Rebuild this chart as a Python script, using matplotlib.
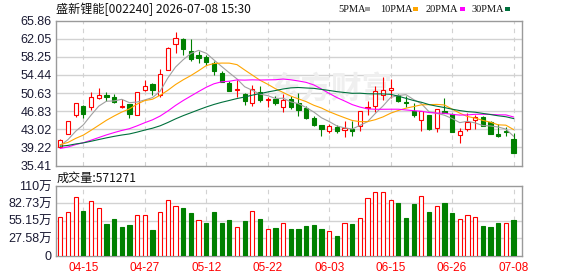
import matplotlib
matplotlib.use("Agg")
import matplotlib.pyplot as plt
from matplotlib.patches import Rectangle

plt.rcParams['font.family'] = ['Liberation Sans', 'Noto Sans CJK SC']

# trading days shown (2026)
dates = ["04-10", "04-13", "04-14", "04-15", "04-16", "04-17", "04-20", "04-21", "04-22", "04-23",
         "04-24", "04-27", "04-28", "04-29", "04-30", "05-06", "05-07", "05-08", "05-11", "05-12",
         "05-13", "05-14", "05-15", "05-18", "05-19", "05-20", "05-21", "05-22", "05-25", "05-26",
         "05-27", "05-28", "05-29", "06-01", "06-02", "06-03", "06-04", "06-05", "06-08", "06-09",
         "06-10", "06-11", "06-12", "06-15", "06-16", "06-17", "06-18", "06-22", "06-23", "06-24",
         "06-25", "06-26", "06-29", "06-30", "07-01", "07-02", "07-03", "07-06", "07-07", "07-08"]

opens = [39.31, 42.07, 46.09, 47.93, 47.79, 49.69, 50.26, 49.83, 47.79, 48.35,
         46.09, 51.18, 52.45, 50.19, 55.48, 60.99, 61.91, 59.51, 58.66, 58.24,
         56.96, 54.92, 52.80, 51.18, 50.47, 48.49, 50.89, 49.20, 49.41, 47.65,
         49.27, 48.63, 47.50, 45.39, 43.90, 42.70, 43.55, 42.77, 42.99, 43.69,
         47.43, 47.86, 50.19, 51.25, 50.19, 48.77, 46.94, 44.96, 45.95, 43.20,
         46.94, 46.30, 41.71, 42.99, 44.96, 45.60, 44.47, 42.00, 42.56, 40.94]
highs = [41.00, 44.75, 48.60, 48.20, 50.89, 51.60, 50.89, 50.33, 49.34, 48.40,
         50.95, 53.44, 52.80, 55.62, 60.30, 63.46, 62.19, 62.05, 59.51, 58.66,
         57.39, 55.27, 53.15, 53.29, 50.68, 52.31, 52.10, 49.90, 49.97, 50.47,
         49.97, 50.68, 47.86, 45.88, 43.90, 44.11, 43.83, 44.82, 44.68, 46.80,
         49.06, 52.10, 54.07, 53.65, 50.47, 49.97, 48.56, 46.94, 46.09, 47.30,
         49.62, 46.52, 43.27, 46.45, 46.09, 45.88, 44.68, 44.19, 43.55, 42.21]
lows = [39.03, 42.00, 45.53, 45.39, 47.08, 49.41, 49.06, 48.49, 47.50, 45.39,
        46.00, 51.03, 50.19, 49.90, 55.40, 59.08, 58.59, 57.39, 56.89, 56.61,
        54.42, 52.87, 51.00, 49.90, 48.07, 47.93, 48.77, 47.79, 48.07, 46.66,
        47.36, 45.88, 45.25, 43.69, 41.71, 42.28, 42.28, 41.43, 41.71, 42.70,
        46.09, 46.66, 49.27, 49.62, 48.77, 47.65, 45.67, 42.56, 42.92, 42.49,
        46.50, 42.42, 40.16, 42.56, 43.13, 43.62, 42.00, 41.50, 41.71, 38.00]
closes = [40.73, 44.68, 48.49, 46.23, 49.76, 50.19, 49.90, 48.77, 47.93, 46.23,
          50.89, 52.10, 51.18, 54.71, 60.14, 62.26, 59.86, 57.74, 57.95, 57.10,
          55.27, 53.01, 51.03, 51.53, 48.92, 51.46, 49.06, 49.41, 48.56, 49.20,
          47.65, 47.15, 45.39, 43.83, 43.13, 43.69, 42.56, 43.34, 42.70, 46.80,
          47.72, 51.10, 51.20, 51.67, 48.92, 48.49, 45.95, 46.94, 43.13, 47.29,
          46.52, 42.50, 42.60, 44.61, 45.53, 43.76, 42.07, 41.50, 42.42, 38.04]

# volume in 万 shares
volumes = [61.6, 69.6, 93.5, 70.1, 87.1, 76.0, 49.4, 57.4, 44.6, 47.8,
           64.8, 63.8, 39.9, 69.6, 88.7, 79.2, 74.9, 67.0, 56.9, 51.0,
           68.5, 51.0, 55.8, 45.7, 54.2, 71.2, 57.4, 42.5, 43.0, 52.1,
           41.4, 41.4, 46.2, 47.8, 41.4, 38.3, 30.3, 51.0, 49.4, 60.0,
           91.9, 101.5, 101.5, 88.7, 84.0, 59.0, 81.3, 95.1, 68.5, 79.2,
           82.9, 67.0, 58.4, 64.8, 61.6, 46.2, 44.6, 51.0, 52.1, 57.13]

ma5 = [39.60, 40.85, 42.60, 43.95, 45.98, 47.87, 48.91, 48.97, 49.31, 48.60,
       48.74, 49.18, 49.67, 51.02, 53.80, 56.08, 57.63, 58.94, 59.59, 58.98,
       57.58, 56.21, 54.87, 53.59, 51.95, 51.19, 50.40, 50.08, 49.48, 49.54,
       48.78, 48.39, 47.59, 46.64, 45.43, 44.64, 43.72, 43.31, 43.08, 43.82,
       44.62, 46.33, 47.90, 49.70, 50.12, 50.28, 49.25, 48.39, 46.69, 46.36,
       45.97, 45.28, 44.41, 44.70, 44.35, 43.80, 43.71, 43.49, 43.06, 41.56]
ma10 = [39.80, 40.25, 41.10, 41.80, 42.80, 43.85, 44.90, 45.80, 46.63, 47.29,
        48.31, 49.05, 49.32, 50.17, 51.20, 52.41, 53.41, 54.30, 55.31, 56.39,
        56.83, 56.92, 56.91, 56.59, 55.47, 54.39, 53.31, 52.47, 51.54, 50.75,
        49.98, 49.40, 48.83, 48.06, 47.48, 46.71, 46.06, 45.45, 44.86, 44.62,
        44.63, 45.03, 45.61, 46.39, 46.97, 47.45, 47.79, 48.15, 48.19, 48.24,
        48.12, 47.26, 46.40, 45.70, 45.36, 44.88, 44.50, 43.95, 43.88, 42.96]
ma20 = [39.00, 39.30, 39.80, 40.20, 40.72, 41.28, 41.83, 42.32, 42.77, 43.14,
        43.74, 44.40, 45.00, 45.80, 46.85, 48.02, 49.06, 50.00, 50.94, 51.84,
        52.57, 52.99, 53.11, 53.38, 53.34, 53.40, 53.36, 53.39, 53.42, 53.57,
        53.41, 53.16, 52.87, 52.33, 51.48, 50.55, 49.68, 48.96, 48.20, 47.68,
        47.31, 47.21, 47.22, 47.23, 47.23, 47.08, 46.92, 46.80, 46.53, 46.43,
        46.38, 46.14, 46.00, 46.04, 46.16, 46.17, 46.14, 46.05, 46.04, 45.60]
ma30 = [39.45, 39.63, 39.93, 40.16, 40.50, 40.86, 41.21, 41.53, 41.81, 42.04,
        42.42, 42.85, 43.24, 43.75, 44.44, 45.20, 45.88, 46.49, 47.11, 47.70,
        48.23, 48.68, 49.07, 49.47, 49.79, 50.19, 50.51, 50.85, 51.15, 51.48,
        51.71, 51.79, 51.69, 51.61, 51.39, 51.17, 50.92, 50.74, 50.57, 50.59,
        50.48, 50.45, 50.45, 50.35, 49.97, 49.51, 49.05, 48.69, 48.20, 47.87,
        47.58, 47.23, 46.95, 46.72, 46.60, 46.35, 46.11, 45.85, 45.65, 45.27]

price_ticks = [35.41, 39.22, 43.02, 46.83, 50.63, 54.44, 58.25, 62.05, 65.86]
vol_ticks = [0, 27.58, 55.15, 82.73, 110.3]
vol_tick_labels = ["0", "27.58万", "55.15万", "82.73万", "110万"]

RED = "#ff0000"
GREEN = "#008000"
GRID = "#d2d2d2"
SPINE = "#9a9a9a"
ma_colors = ["#a0a0a0", "#ffa500", "#ff00ff", "#00703c"]

W, H = 578, 276
fig = plt.figure(figsize=(W / 100, H / 100), dpi=100)


def fx(px):
    return px / W


def fy(py):
    return 1 - py / H


ax = fig.add_axes([fx(56), fy(165.5), fx(522) - fx(56), fy(20.5) - fy(165.5)])
axv = fig.add_axes([fx(56), fy(255.5), fx(522) - fx(56), fy(186) - fy(255.5)])

n = len(closes)
label_idx = list(range(3, n, 8))

for a in (ax, axv):
    a.set_xlim(-0.56, n + 0.1)
    for s in a.spines.values():
        s.set_color(SPINE)
        s.set_linewidth(1.0)
    for i in label_idx:
        a.axvline(i, color=GRID, lw=0.8, ls=(0, (4, 4)), zorder=0)
    a.tick_params(length=0, pad=3)

# candles
for i in range(n):
    o, h, l, c = opens[i], highs[i], lows[i], closes[i]
    col = RED if c >= o else GREEN
    ax.vlines(i, l, h, color=col, lw=0.8, zorder=2)
    body = max(abs(c - o), 0.06)
    ax.bar(i, body, bottom=min(o, c), width=0.55,
           facecolor="white" if c >= o else col, edgecolor=col, lw=0.8, zorder=3)

x = list(range(n))
for ma, col in zip([ma5, ma10, ma20, ma30], ma_colors):
    ax.plot(x, ma, color=col, lw=0.8, zorder=4)

ax.set_ylim(price_ticks[0], price_ticks[-1])
ax.set_yticks(price_ticks)
ax.set_yticklabels([f"{v:.2f}" for v in price_ticks], fontsize=9, color="#1a1a33")
for v in price_ticks[1:-1]:
    ax.axhline(v, color=GRID, lw=1.0, zorder=0)
ax.set_xticks([])

ax.text(0.59, 0.53, "东方财富", transform=ax.transAxes, fontsize=22, fontweight="bold",
        color="#efefef", ha="center", va="center", family=["Noto Sans CJK SC"], zorder=1)

# volume
for i in range(n):
    prev = closes[i - 1] if i > 0 else opens[i]
    if closes[i] >= prev:
        axv.bar(i, volumes[i], width=0.55, facecolor="white", edgecolor=RED, lw=0.8, zorder=3)
    else:
        axv.bar(i, volumes[i], width=0.55, facecolor=GREEN, edgecolor=GREEN, lw=0.8, zorder=3)

axv.set_ylim(vol_ticks[0], vol_ticks[-1])
axv.set_yticks(vol_ticks)
axv.set_yticklabels(vol_tick_labels, fontsize=9, color="#1a1a33")
for v in vol_ticks[1:-1]:
    axv.axhline(v, color=GRID, lw=1.0, zorder=0)
axv.set_xticks(label_idx)
axv.set_xticklabels([dates[i] for i in label_idx], fontsize=8.5, color=RED)
axv.tick_params(axis="x", pad=5)

# header texts
fig.text(fx(56), fy(9), "盛新锂能[002240] 2026-07-08 15:30", fontsize=8.7,
         family=["Noto Sans CJK SC"], va="center", ha="left", color="#111111")
fig.text(fx(57), fy(178), "成交量:571271", fontsize=8.7,
         family=["Noto Sans CJK SC"], va="center", ha="left", color="#111111")

legend_names = ["5PMA", "10PMA", "20PMA", "30PMA"]
legend_x = [338, 380, 426, 472]
square_x = [365, 413, 460, 505]
for name, tx, sx, col in zip(legend_names, legend_x, square_x, ma_colors):
    fig.text(fx(tx), fy(9), name, fontsize=7.5, family=["Liberation Serif"],
             va="center", ha="left", color="#111111")
    fig.patches.append(Rectangle((fx(sx), fy(10.5)), 5 / W, 3 / H, transform=fig.transFigure,
                                 facecolor=col, edgecolor="none"))

fig.savefig("out.png", dpi=100)
